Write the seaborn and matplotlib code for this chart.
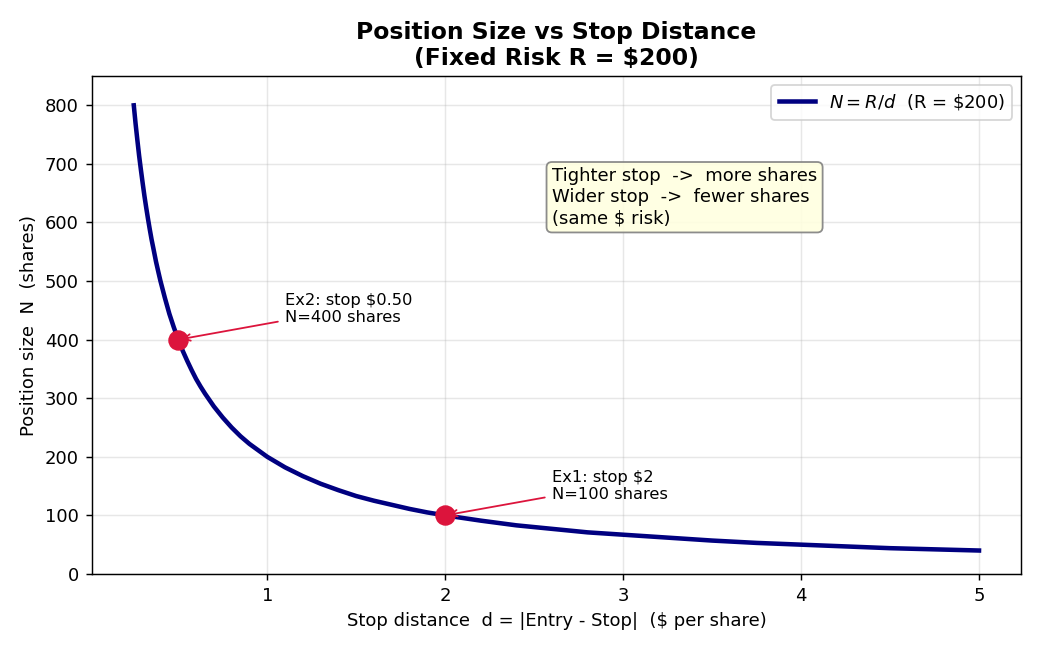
import matplotlib
matplotlib.use("Agg")
import matplotlib.pyplot as plt
import seaborn as sn
import pandas as pd

# curve values (N = R/d, R = $200)
stop_d = [0.25, 0.26, 0.27, 0.28, 0.29, 0.30, 0.31, 0.32, 0.33, 0.34, 0.35, 0.36, 0.375,
          0.39, 0.4, 0.425, 0.45, 0.475, 0.5, 0.525, 0.55, 0.575, 0.6, 0.625, 0.65, 0.7,
          0.75, 0.8, 0.85, 0.9, 0.95, 1.0, 1.1, 1.2, 1.3, 1.4, 1.5, 1.6, 1.7, 1.8, 1.9,
          2.0, 2.2, 2.4, 2.6, 2.8, 3.0, 3.25, 3.5, 3.75, 4.0, 4.25, 4.5, 4.75, 5.0]
shares = [800, 769, 741, 714, 690, 667, 645, 625, 606, 588, 571, 556, 533,
          513, 500, 471, 444, 421, 400, 381, 364, 348, 333, 320, 308, 286,
          267, 250, 235, 222, 211, 200, 182, 167, 154, 143, 133, 125, 118, 111, 105,
          100, 91, 83, 77, 71, 67, 62, 57, 53, 50, 47, 44, 42, 40]
ex_d = [2.0, 0.5]
ex_n = [100, 400]
ex_labels = ["Ex1: stop $2\nN=100 shares", "Ex2: stop $0.50\nN=400 shares"]
ex_text_pos = [(2.6, 128), (1.1, 430)]

curve = pd.DataFrame({"d": stop_d, "N": shares})
pts = pd.DataFrame({"d": ex_d, "N": ex_n})

fig, ax = plt.subplots(figsize=(8, 5), dpi=130)
sn.lineplot(data=curve, x="d", y="N", color="navy", linewidth=2.5,
            label=r"$N = R/d$  (R = \$200)", ax=ax)
sn.scatterplot(data=pts, x="d", y="N", color="crimson", s=110, edgecolor="crimson",
               zorder=5, ax=ax)

for (x, y), lab, tp in zip(zip(ex_d, ex_n), ex_labels, ex_text_pos):
    ax.annotate(lab, xy=(x, y), xytext=tp, fontsize=9,
                arrowprops=dict(arrowstyle="->", color="crimson", lw=1.0))

ax.text(2.6, 694, "Tighter stop  ->  more shares\nWider stop  ->  fewer shares\n(same $ risk)",
        fontsize=10, va="top",
        bbox=dict(boxstyle="round,pad=0.3", facecolor="lightyellow", edgecolor="gray", alpha=0.9))

ax.set_ylim(0, 850)
ax.set_title("Position Size vs Stop Distance\n(Fixed Risk R = $200)", fontsize=13, fontweight="bold")
ax.set_xlabel("Stop distance  d = |Entry - Stop|  ($ per share)", fontsize=10)
ax.set_ylabel("Position size  N  (shares)", fontsize=10)
ax.grid(True, alpha=0.3)
ax.legend(loc="upper right", fontsize=10)

plt.subplots_adjust(left=0.088, right=0.982, top=0.883, bottom=0.117)
plt.savefig("out.png", dpi=130)
